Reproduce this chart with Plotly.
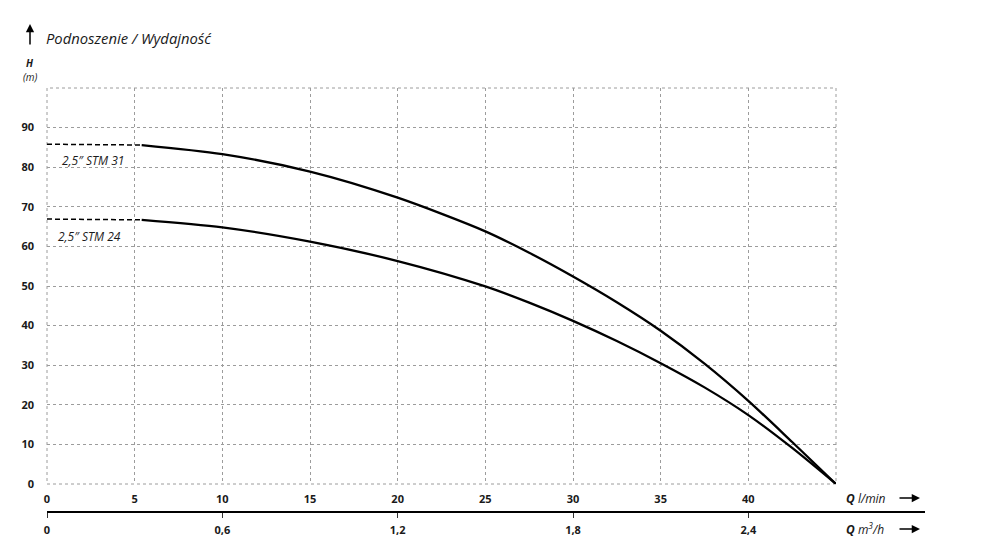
import plotly.graph_objects as go

# ---- data ----
q_lmin_ticks = [0, 5, 10, 15, 20, 25, 30, 35, 40, 45]
q_lmin_text = ["0", "5", "10", "15", "20", "25", "30", "35", "40", ""]
q_m3h_ticks = [0, 0.6, 1.2, 1.8, 2.4]
q_m3h_text = ["0", "0,6", "1,2", "1,8", "2,4"]
h_ticks = [0, 10, 20, 30, 40, 50, 60, 70, 80, 90, 100]
h_text = ["0", "10", "20", "30", "40", "50", "60", "70", "80", "90", ""]

q_stm31 = [5.4, 10, 15, 20, 25, 27.5, 30, 32.5, 35, 37.5, 40, 42.5, 45]
h_stm31 = [85.6, 83.3, 78.9, 72.3, 63.8, 58.4, 52.4, 45.9, 38.7, 30.4, 21.0, 10.6, 0]
q_stm24 = [5.4, 10, 15, 20, 25, 27.5, 30, 32.5, 35, 37.5, 40, 42.5, 45]
h_stm24 = [66.7, 64.8, 61.2, 56.3, 49.9, 45.8, 41.2, 36.1, 30.5, 24.4, 17.4, 9.1, 0]

q_dash = [0, 5.4]
h_stm31_dash = [85.8, 85.6]
h_stm24_dash = [66.9, 66.7]

series_names = ["2,5\u2033 STM 31", "2,5\u2033 STM 24"]

# ---- layout geometry (reference pixels) ----
OFF = 8                      # page body margin
W, H = 989 - OFF, 560 - OFF
L, R, T, B = 47, 925, 88, 511   # plot area (incl. secondary axis), reference px
X_MAIN_RIGHT = 836
Y_MAIN_BOTTOM = 484
Q_MAX = 45
M3H_PER_LMIN = 0.06

def px(x):
    return (x - L) / (R - L)

def py(y):
    return (B - y) / (B - T)

main_dom = px(X_MAIN_RIGHT)
y_dom0 = py(Y_MAIN_BOTTOM)

FONT = "Open Sans"
TXT = "#1a1a1a"
GRID = "#9c9c9c"

fig = go.Figure()

for qs, hs in [(q_dash, h_stm31_dash), (q_dash, h_stm24_dash)]:
    fig.add_trace(go.Scatter(x=qs, y=hs, mode="lines",
                             line=dict(color="black", width=1.5, dash="5px,3px"),
                             showlegend=False, hoverinfo="skip", cliponaxis=False))
for qs, hs in [(q_stm31, h_stm31), (q_stm24, h_stm24)]:
    fig.add_trace(go.Scatter(x=qs, y=hs, mode="lines",
                             line=dict(color="black", width=2.3, shape="spline", smoothing=0.8),
                             showlegend=False, hoverinfo="skip", cliponaxis=False))

# invisible trace on the secondary (m3/h) axis so it renders
fig.add_trace(go.Scatter(x=[0], y=[0], xaxis="x2", yaxis="y2", mode="markers",
                         marker=dict(opacity=0), showlegend=False, hoverinfo="skip"))

x2_max = Q_MAX * M3H_PER_LMIN / main_dom

fig.update_layout(
    width=W, height=H,
    margin=dict(l=L - OFF, r=W - (R - OFF), t=T - OFF, b=H - (B - OFF), pad=0, autoexpand=False),
    paper_bgcolor="white", plot_bgcolor="rgba(0,0,0,0)",
    font=dict(family=FONT, color=TXT, size=11),
    xaxis=dict(domain=[0, main_dom], range=[0, Q_MAX], anchor="y", automargin=False,
               tickvals=q_lmin_ticks, ticktext=q_lmin_text,
               showgrid=True, gridcolor=GRID, griddash="dot", gridwidth=1,
               zeroline=False, showline=False, ticks="",
               tickfont=dict(family=FONT, size=11, color=TXT, weight="bold"),
               ticklabelstandoff=7),
    xaxis2=dict(domain=[0, 1], range=[0, x2_max], anchor="y2", automargin=False,
                side="bottom",
                tickvals=q_m3h_ticks, ticktext=q_m3h_text,
                showgrid=False, zeroline=False, showline=True,
                linecolor="black", linewidth=1.5,
                ticks="outside", ticklen=5, tickwidth=1, tickcolor="#333",
                tickfont=dict(family=FONT, size=11, color=TXT, weight="bold"),
                ticklabelstandoff=3),
    yaxis=dict(domain=[y_dom0, 1], range=[0, 100], anchor="x", automargin=False,
               tickvals=h_ticks, ticktext=h_text,
               showgrid=True, gridcolor=GRID, griddash="dot", gridwidth=1,
               zeroline=False, showline=False, ticks="",
               tickfont=dict(family=FONT, size=11, color=TXT, weight="bold"),
               ticklabelstandoff=12),
    yaxis2=dict(domain=[0, y_dom0 * 0.5], range=[0, 1], anchor="x2", visible=False,
                showgrid=False, zeroline=False, automargin=False),
)

# dotted border of the grid (range edges)
fig.add_shape(type="rect", xref="x domain", yref="y domain", x0=0, x1=1, y0=0, y1=1,
              line=dict(color=GRID, width=1, dash="dot"), layer="below")

ann = []
# title + up arrow
ann.append(dict(x=px(44), y=py(38), xref="paper", yref="paper", xanchor="left", yanchor="middle",
                text="<i>Podnoszenie / Wydajność</i>", showarrow=False,
                font=dict(family=FONT, size=14.8, color=TXT)))
ann.append(dict(x=px(30), y=py(24), xref="paper", yref="paper", ax=0, ay=22,
                showarrow=True, arrowhead=2, arrowsize=1.1, arrowwidth=1.5, arrowcolor="black",
                text="", standoff=0, startstandoff=0))
ann.append(dict(x=px(30), y=py(63), xref="paper", yref="paper", xanchor="center", yanchor="middle",
                text="<b><i>H</i></b>", showarrow=False, font=dict(family=FONT, size=10, color=TXT)))
ann.append(dict(x=px(30), y=py(77), xref="paper", yref="paper", xanchor="center", yanchor="middle",
                text="<i>(m)</i>", showarrow=False, font=dict(family=FONT, size=10, color=TXT)))
# series labels
ann.append(dict(x=2.6, y=81.6, xref="x", yref="y", xanchor="center", yanchor="middle",
                text="<i>" + series_names[0] + "</i>", showarrow=False,
                font=dict(family=FONT, size=12, color=TXT)))
ann.append(dict(x=2.45, y=62.4, xref="x", yref="y", xanchor="center", yanchor="middle",
                text="<i>" + series_names[1] + "</i>", showarrow=False,
                font=dict(family=FONT, size=12, color=TXT)))
# axis unit labels with arrows
for ytxt, label in [(498, "<b><i>Q</i></b> <i>l/min</i>"), (529, "<b><i>Q</i></b> <i>m<sup>3</sup>/h</i>")]:
    ann.append(dict(x=px(844), y=py(ytxt), xref="paper", yref="paper", xanchor="left", yanchor="middle",
                    text=label, showarrow=False, font=dict(family=FONT, size=12, color=TXT)))
    ann.append(dict(x=px(920), y=py(ytxt), xref="paper", yref="paper", ax=-22, ay=0,
                    showarrow=True, arrowhead=2, arrowsize=1.1, arrowwidth=1.5, arrowcolor="black",
                    text="", standoff=0, startstandoff=0))

fig.update_layout(annotations=ann)

fig.write_html("out.html", config={"displayModeBar": False})
